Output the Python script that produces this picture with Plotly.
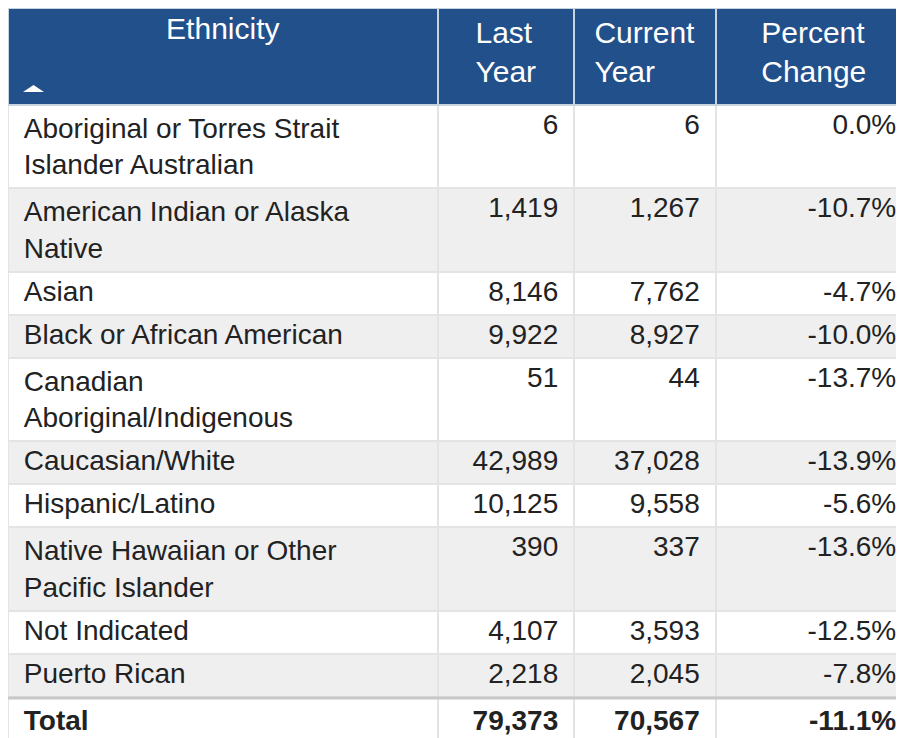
import textwrap
import plotly.graph_objects as go

# ---- data ----
ethnicity = [
    "Aboriginal or Torres Strait Islander Australian",
    "American Indian or Alaska Native",
    "Asian",
    "Black or African American",
    "Canadian Aboriginal/Indigenous",
    "Caucasian/White",
    "Hispanic/Latino",
    "Native Hawaiian or Other Pacific Islander",
    "Not Indicated",
    "Puerto Rican",
]
last_year = [6, 1419, 8146, 9922, 51, 42989, 10125, 390, 4107, 2218]
current_year = [6, 1267, 7762, 8927, 44, 37028, 9558, 337, 3593, 2045]
percent_change = [0.0, -10.7, -4.7, -10.0, -13.7, -13.9, -5.6, -13.6, -12.5, -7.8]
total_label = "Total"
total_last = 79373
total_current = 70567
total_pct = -11.1

headers = ["Ethnicity", "Last<br>Year", "Current<br>Year", "Percent<br>Change"]

# ---- formatting ----
NB = "\u00a0"
wrapped = [textwrap.wrap(s, 27) for s in ethnicity]
col0 = [NB + ("<br>" + NB).join(w) for w in wrapped] + [NB + "<b>" + total_label + "</b>"]
col1 = [f"{v:,}" + NB for v in last_year] + [f"<b>{total_last:,}</b>" + NB]
col2 = [f"{v:,}" + NB for v in current_year] + [f"<b>{total_current:,}</b>" + NB]
col3 = [f"{v:.1f}%" + NB for v in percent_change] + [f"<b>{total_pct:.1f}%</b>" + NB]

n = len(col0)
fills = ["#ffffff" if i % 2 == 0 else "#efefef" for i in range(n)]

FONT = "Liberation Sans, Arial, sans-serif"
HEADER_BLUE = "#22508b"

fig = go.Figure(
    go.Table(
        domain=dict(x=[0, 1.0], y=[0, 1.0]),
        columnwidth=[422, 134, 139, 193],
        header=dict(
            values=headers,
            fill_color=HEADER_BLUE,
            line=dict(color="#c9d3e0", width=2),
            align="center",
            font=dict(family=FONT, size=30, color="white"),
            height=97,
        ),
        cells=dict(
            values=[col0, col1, col2, col3],
            fill_color=[fills] * 4,
            line=dict(color="#e4e4e4", width=2),
            align=["left", "right", "right", "right"],
            font=dict(family=FONT, size=[28, 28, 28, 28], color="#222222"),
            height=43,
        ),
    )
)

# sort indicator in the Ethnicity header (figure-pixel positions)
W, H = 904, 738
fig.add_shape(type="path", xref="paper", yref="paper",
              path=f"M {15/W},{1-84/H} L {36/W},{1-84/H} L {25.5/W},{1-77/H} Z",
              fillcolor="white", line=dict(width=0))

# separator above the Total row
fig.add_shape(type="line", xref="paper", yref="paper",
              x0=0, x1=1, y0=1 - 690 / H, y1=1 - 690 / H,
              line=dict(color="#c8c8c8", width=3))

fig.update_layout(
    width=W, height=H,
    margin=dict(l=0, r=0, t=0, b=0),
    paper_bgcolor="white",
)

fig.write_html("out.html")
